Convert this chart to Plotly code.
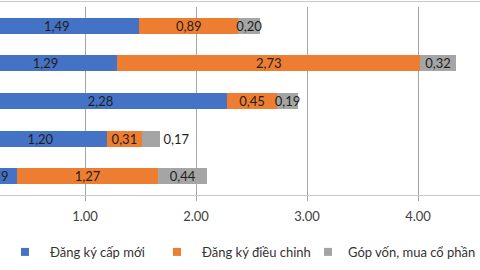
import plotly.graph_objects as go

# rows from top to bottom
rows = ["Nhóm 1", "Nhóm 2", "Nhóm 3", "Nhóm 4", "Nhóm 5"]
cap_moi = [1.49, 1.29, 2.28, 1.20, 0.39]
dieu_chinh = [0.89, 2.73, 0.45, 0.31, 1.27]
gop_von = [0.20, 0.32, 0.19, 0.17, 0.44]
tick_vals = [1, 2, 3, 4]
tick_text = ["1.00", "2.00", "3.00", "4.00"]

series = [
    ("Đăng ký cấp mới", cap_moi, "#4472C4", "legend", ["inside"] * 5),
    ("Đăng ký điều chỉnh", dieu_chinh, "#ED7D31", "legend2", ["inside"] * 5),
    ("Góp vốn, mua cổ phần", gop_von, "#A5A5A5", "legend3",
     ["inside", "inside", "inside", "outside", "inside"]),
]

FONT = "Lato, 'Open Sans', sans-serif"

fig = go.Figure()
for name, vals, color, leg, pos in series:
    fig.add_trace(
        go.Bar(
            y=rows,
            x=vals,
            name=name,
            orientation="h",
            showlegend=False,
            marker=dict(color=color, line=dict(width=0)),
            text=[f"{v:.2f}".replace(".", ",") for v in vals],
            textposition=pos,
            insidetextanchor="middle",
            constraintext="none",
            textangle=0,
            textfont=dict(family=FONT, size=13, color="#1e1e1e"),
            outsidetextfont=dict(family=FONT, size=13, color="#1e1e1e"),
        )
    )
    # small square legend entry
    fig.add_trace(
        go.Scatter(
            x=[None], y=[None], mode="markers", name=name, legend=leg,
            marker=dict(symbol="square", size=8, color=color),
        )
    )

px_per_unit = 111
x0 = 26 / px_per_unit
leg_common = dict(
    orientation="h",
    xanchor="left",
    y=-0.303,
    yanchor="middle",
    font=dict(family=FONT, size=13, color="#333333"),
    itemclick=False,
    bgcolor="rgba(0,0,0,0)",
)
fig.update_layout(
    width=480,
    height=270,
    barmode="stack",
    bargap=0.575,
    margin=dict(l=0, r=0, t=7, b=75, autoexpand=False),
    paper_bgcolor="white",
    plot_bgcolor="white",
    font=dict(family=FONT, size=13, color="#404040"),
    showlegend=True,
    legend=dict(x=0 / 480, itemwidth=40, **leg_common),
    legend2=dict(x=152 / 480, itemwidth=40, **leg_common),
    legend3=dict(x=308 / 480, **leg_common),
)
fig.update_xaxes(
    range=[x0, x0 + 480 / px_per_unit],
    tickvals=tick_vals,
    ticktext=tick_text,
    showgrid=True,
    gridcolor="#a6a6a6",
    gridwidth=1,
    zeroline=False,
    showline=True,
    linecolor="#c8c8c8",
    linewidth=1,
    ticks="outside",
    ticklen=5,
    tickcolor="#a6a6a6",
    ticklabelstandoff=4,
    tickfont=dict(family=FONT, size=13, color="#404040"),
)
fig.update_yaxes(
    autorange="reversed",
    showticklabels=False,
    showgrid=False,
    zeroline=False,
)
# thin border line at top of chart
fig.add_shape(
    type="line", xref="paper", yref="paper",
    x0=0, x1=1, y0=1 + 5.5 / 188, y1=1 + 5.5 / 188,
    line=dict(color="#c8c8c8", width=1),
)

fig.write_html(
    "out.html",
    config={"displayModeBar": False},
    post_script="document.body.style.margin='0';",
)
